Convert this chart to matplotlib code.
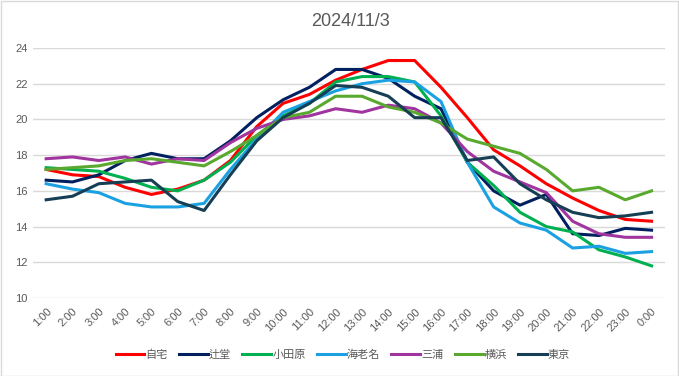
import matplotlib.pyplot as plt
from matplotlib.patches import Rectangle

plt.rcParams['font.family'] = ['Liberation Sans', 'Noto Sans CJK JP', 'DejaVu Sans']

hours = ['1:00', '2:00', '3:00', '4:00', '5:00', '6:00', '7:00', '8:00',
         '9:00', '10:00', '11:00', '12:00', '13:00', '14:00', '15:00', '16:00',
         '17:00', '18:00', '19:00', '20:00', '21:00', '22:00', '23:00', '0:00']

jitaku   = [17.2, 16.9, 16.8, 16.2, 15.8, 16.1, 16.6, 17.7, 19.6, 20.9, 21.4, 22.2,
            22.8, 23.3, 23.3, 21.8, 20.1, 18.3, 17.4, 16.4, 15.6, 14.9, 14.4, 14.3]
tsujido  = [16.6, 16.5, 16.9, 17.7, 18.1, 17.8, 17.8, 18.8, 20.1, 21.1, 21.8, 22.8,
            22.8, 22.3, 21.3, 20.6, 17.6, 16.0, 15.2, 15.8, 13.6, 13.5, 13.9, 13.8]
odawara  = [17.3, 17.2, 17.1, 16.7, 16.2, 16.0, 16.6, 17.6, 19.1, 20.2, 20.9, 22.1,
            22.4, 22.4, 22.1, 20.2, 17.6, 16.3, 14.8, 14.0, 13.7, 12.7, 12.3, 11.8]
ebina    = [16.4, 16.1, 15.9, 15.3, 15.1, 15.1, 15.3, 17.2, 18.9, 20.4, 21.0, 21.6,
            22.0, 22.2, 22.1, 21.0, 17.6, 15.1, 14.2, 13.8, 12.8, 12.9, 12.5, 12.6]
miura    = [17.8, 17.9, 17.7, 17.9, 17.5, 17.8, 17.7, 18.7, 19.5, 20.0, 20.2, 20.6,
            20.4, 20.8, 20.6, 19.8, 18.2, 17.1, 16.5, 15.9, 14.3, 13.6, 13.4, 13.4]
yokohama = [17.2, 17.3, 17.4, 17.7, 17.8, 17.6, 17.4, 18.2, 19.1, 20.1, 20.4, 21.3,
            21.3, 20.7, 20.4, 19.8, 18.9, 18.5, 18.1, 17.2, 16.0, 16.2, 15.5, 16.0]
tokyo    = [15.5, 15.7, 16.4, 16.5, 16.6, 15.4, 14.9, 16.9, 18.8, 20.1, 20.9, 21.9,
            21.8, 21.3, 20.1, 20.1, 17.7, 17.9, 16.4, 15.5, 14.8, 14.5, 14.6, 14.8]

names = ['自宅', '辻堂', '小田原', '海老名', '三浦', '横浜', '東京']
series = [jitaku, tsujido, odawara, ebina, miura, yokohama, tokyo]
colors = ['#FF0000', '#002060', '#00B050', '#1BA1E2', '#A0359F', '#59A92F', '#163F56']

fig = plt.figure(figsize=(6.79, 3.76), dpi=100)
ax = fig.add_axes([0.0486, 0.2074, 0.9304, 0.6649])

x = list(range(len(hours)))
for name, vals, c in zip(names, series, colors):
    ax.plot(x, vals, color=c, linewidth=2.2, label=name)

ax.set_xlim(-0.5, len(hours) - 0.5)
ax.set_ylim(10, 24)
ax.set_yticks(range(10, 25, 2))
ax.set_xticks(x)
ax.set_xticklabels(hours, rotation=45, ha='right', rotation_mode='anchor')
ax.tick_params(axis='both', length=0, labelsize=8, colors='#595959', pad=4)
ax.tick_params(axis='x', pad=6)
ax.grid(axis='y', color='#D9D9D9', linewidth=1)
ax.set_axisbelow(True)
for s in ax.spines.values():
    s.set_visible(False)

fig.suptitle('2024/11/3', x=0.5155, y=0.965, fontsize=13, color='#595959')

fig.legend(loc='center', bbox_to_anchor=(0.505, 0.057), ncol=7, frameon=False,
           fontsize=8, labelcolor='#595959', handlelength=2.6, handletextpad=0.1,
           columnspacing=1.0)

fig.add_artist(Rectangle((0.001, 0.001), 0.997, 0.997, transform=fig.transFigure,
                         fill=False, edgecolor='#D9D9D9', linewidth=1))

plt.savefig('out.png', dpi=100)
